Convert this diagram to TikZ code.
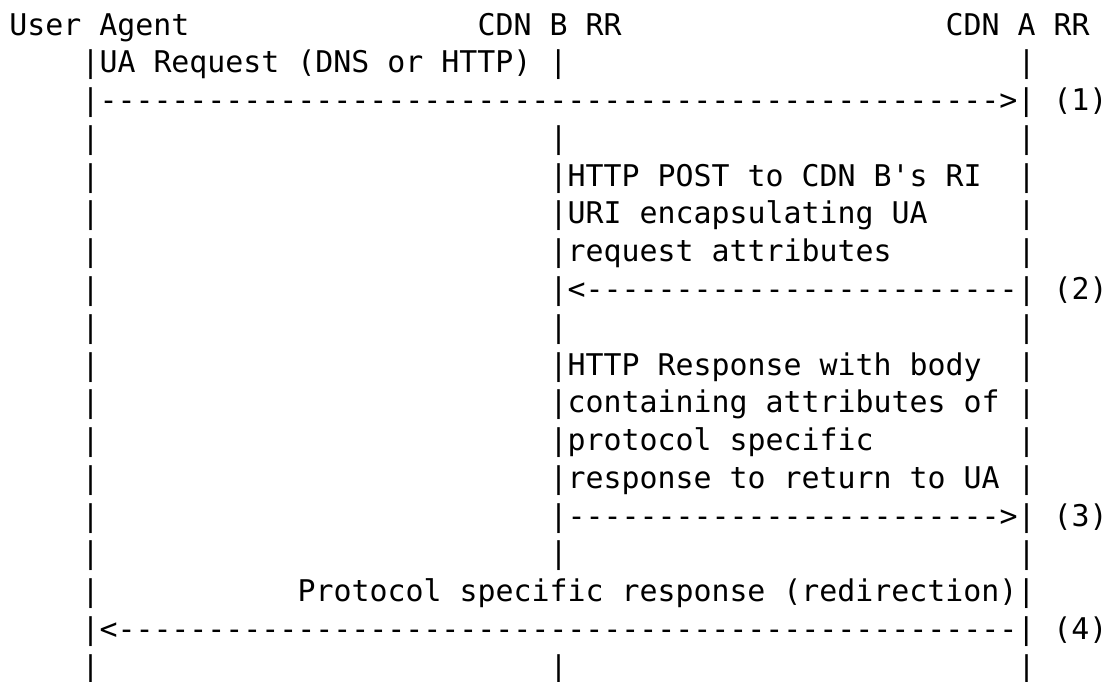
\documentclass[tikz,border=0pt]{standalone}
\usepackage{fontspec}
\setmonofont{DejaVu Sans Mono}
\newcommand\dd{----------}
\newcommand\Cell[4]{\node[txt] (#1) at ({4.75pt+9pt*#2},{-17.5pt-18.89pt*(#3-1)}) {#4};}
\newcommand\Bars[2]{\Cell{#1L}{4}{#2}{|}\Cell{#1M}{30}{#2}{|}\Cell{#1R}{56}{#2}{|}}
\tikzset{txt/.style={anchor=base west, inner sep=0pt, outer sep=0pt,
  font=\ttfamily\fontsize{14.95}{18}\selectfont, text=black}}
\begin{document}
\begin{tikzpicture}
\fill[white] (0,0) rectangle (553.5pt,-340.5pt);
\useasboundingbox (0,0) rectangle (553.5pt,-340.5pt);
% row 1
\Cell{ua}{0}{1}{User Agent}
\Cell{cdnb}{26}{1}{CDN B RR}
\Cell{cdna}{52}{1}{CDN A RR}
% row 2
\Cell{r2a}{4}{2}{|UA Request (DNS or HTTP) |}
\Cell{r2R}{56}{2}{|}
% row 3
\Cell{r3a}{4}{3}{|\dd\dd\dd\dd\dd>| (1)}
% row 4
\Bars{r4}{4}
% rows 5-7
\Cell{r5L}{4}{5}{|}\Cell{r5M}{30}{5}{|HTTP POST to CDN B's RI}\Cell{r5R}{56}{5}{|}
\Cell{r6L}{4}{6}{|}\Cell{r6M}{30}{6}{|URI encapsulating UA}\Cell{r6R}{56}{6}{|}
\Cell{r7L}{4}{7}{|}\Cell{r7M}{30}{7}{|request attributes}\Cell{r7R}{56}{7}{|}
% row 8
\Cell{r8L}{4}{8}{|}\Cell{r8M}{30}{8}{|<\dd\dd----| (2)}
% row 9
\Bars{r9}{9}
% rows 10-13
\Cell{r10L}{4}{10}{|}\Cell{r10M}{30}{10}{|HTTP Response with body}\Cell{r10R}{56}{10}{|}
\Cell{r11L}{4}{11}{|}\Cell{r11M}{30}{11}{|containing attributes of}\Cell{r11R}{56}{11}{|}
\Cell{r12L}{4}{12}{|}\Cell{r12M}{30}{12}{|protocol specific}\Cell{r12R}{56}{12}{|}
\Cell{r13L}{4}{13}{|}\Cell{r13M}{30}{13}{|response to return to UA}\Cell{r13R}{56}{13}{|}
% row 14
\Cell{r14L}{4}{14}{|}\Cell{r14M}{30}{14}{|\dd\dd---->| (3)}
% row 15
\Bars{r15}{15}
% row 16
\Cell{r16L}{4}{16}{|}\Cell{r16M}{16}{16}{Protocol specific response (redirection)|}
% row 17
\Cell{r17a}{4}{17}{|<\dd\dd\dd\dd\dd| (4)}
% row 18
\Bars{r18}{18}
\end{tikzpicture}
\end{document}
